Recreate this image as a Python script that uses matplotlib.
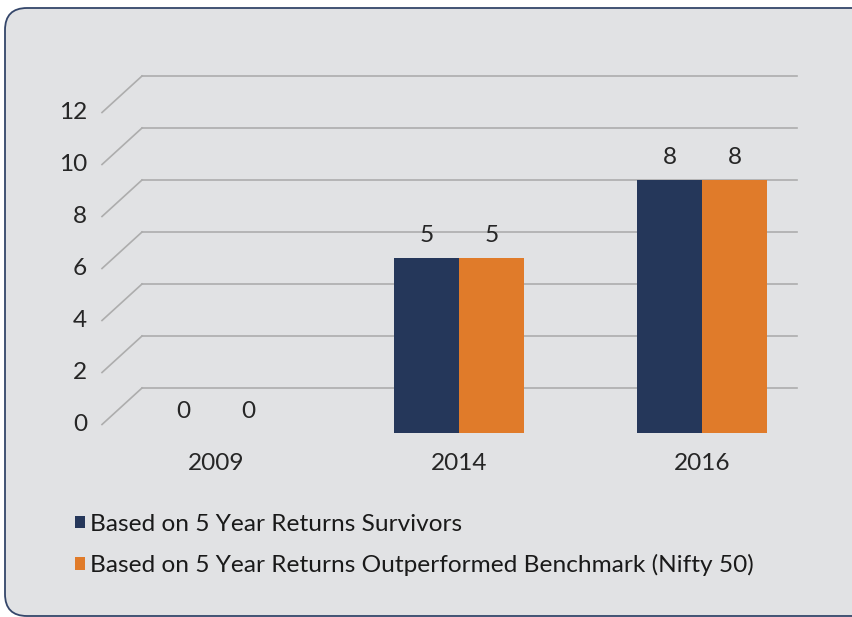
import numpy as np
import matplotlib.pyplot as plt
from matplotlib.patches import FancyBboxPatch
from matplotlib.transforms import IdentityTransform

years = ['2009', '2014', '2016']
survivors = [0, 5, 8]
outperformed = [0, 5, 8]
series_names = ['Based on 5 Year Returns Survivors',
                'Based on 5 Year Returns Outperformed Benchmark (Nifty 50)']
series_colors = ['#25375A', '#E07B2A']
yticks = [0, 2, 4, 6, 8, 10, 12]

W, H = 852, 617
plt.rcParams['font.family'] = ['Lato', 'DejaVu Sans']
fs = 17.6
txt_color = '#262626'

fig = plt.figure(figsize=(W / 100, H / 100), dpi=100)
fig.patch.set_facecolor('white')

# rounded grey panel behind the chart (pixel coords)
panel = FancyBboxPatch((5, 1), 880, 608, boxstyle='round,pad=0,rounding_size=22',
                       transform=IdentityTransform(), facecolor='#E1E2E4',
                       edgecolor='#34466A', linewidth=1.3, zorder=-10)
fig.add_artist(panel)

# back wall of the pseudo 3d chart: 243 px per category, 26 px per unit
px_x, px_y = 243.0, 26.0
ax = fig.add_axes([142 / W, (H - 440) / H, (797 - 142) / W, (440 - 76) / H])
ax.set_xlim(-74 / px_x, 581 / px_x)
ax.set_ylim(-2, 12)
ax.axis('off')
ax.patch.set_alpha(0)

xl, xr = ax.get_xlim()
dx, dy = 40 / px_x, 36.5 / px_y
grid_kw = dict(color='#ADADAD', lw=1.2, clip_on=False, zorder=1)
for v in yticks:
    ax.plot([xl, xr], [v, v], **grid_kw)
    ax.plot([xl - dx, xl], [v - dy, v], **grid_kw)
    ax.text(xl - 55 / px_x, v - dy, str(v), ha='right', va='center',
            fontsize=fs, color=txt_color)

# bars stand on the front floor edge and reach up to the back wall value
floor = -45 / px_y
x = np.arange(len(years))
w = 65 / px_x
for i, (vals, name, c) in enumerate(zip([survivors, outperformed], series_names, series_colors)):
    vals = np.array(vals, dtype=float)
    xs = x + (i - 0.5) * w
    heights = np.where(vals > 0, vals - floor, 0)
    ax.bar(xs, heights, w, bottom=floor, color=c, label=name, zorder=3)
    tops = np.where(vals > 0, vals, floor)
    for xx, t, v in zip(xs, tops, vals):
        ax.text(xx, t + 22 / px_y, f'{v:g}', ha='center', va='center',
                fontsize=fs, color=txt_color, zorder=4)

for xx, yr in zip(x, years):
    ax.text(xx, -76 / px_y, yr, ha='center', va='center', fontsize=fs, color=txt_color)

leg = ax.legend(loc='upper left', bbox_to_anchor=(75 / W, 1 - 514 / H),
                bbox_transform=fig.transFigure, frameon=False, fontsize=fs,
                handlelength=0.4, handleheight=0.4, handletextpad=0.2,
                labelspacing=0.78, borderpad=0, borderaxespad=0)
for t in leg.get_texts():
    t.set_color('#1A1A1A')

fig.savefig('out.png', dpi=100, facecolor='white')
